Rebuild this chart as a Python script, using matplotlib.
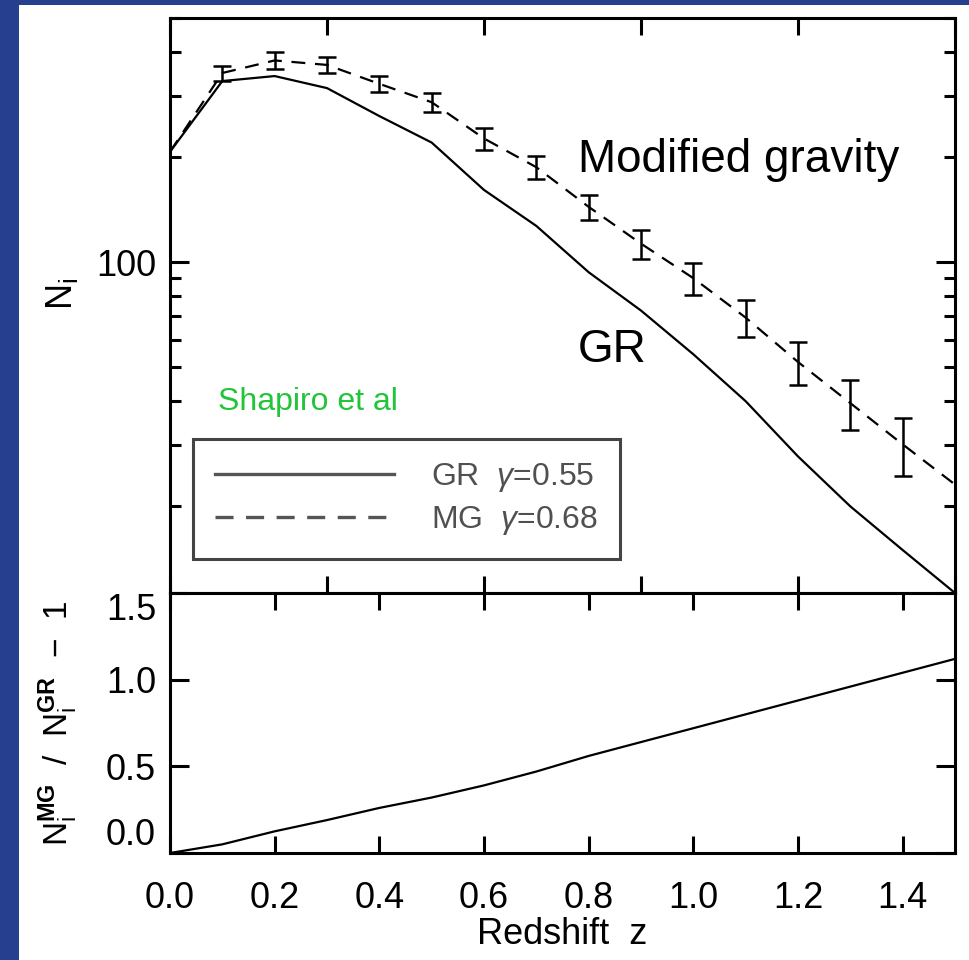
import matplotlib.pyplot as plt
from matplotlib.ticker import MultipleLocator, FixedLocator, FixedFormatter, NullFormatter, LogLocator
from matplotlib.patches import Rectangle

plt.rcParams['font.family'] = ['Liberation Sans', 'DejaVu Sans']
plt.rcParams['mathtext.fontset'] = 'custom'
plt.rcParams['mathtext.rm'] = 'Liberation Sans'
plt.rcParams['mathtext.it'] = 'Liberation Sans:italic'
plt.rcParams['mathtext.bf'] = 'Liberation Sans:bold'
plt.rcParams['lines.scale_dashes'] = False

# values
z = [0.0, 0.1, 0.2, 0.3, 0.4, 0.5, 0.6, 0.7, 0.8, 0.9, 1.0, 1.1, 1.2, 1.3, 1.4, 1.5]
n_gr = [207, 330, 341, 315, 262, 220, 161, 127, 93.6, 72.7, 54.5, 40, 27.8, 20, 15, 11.3]
n_mg = [207, 348, 378, 367, 324, 287, 226, 187, 144, 113, 90, 69.4, 51.8, 39.5, 30.1, 23.1]
mg_err = [0, 17.5, 21.5, 19.5, 18, 18, 16, 14, 12, 10.7, 9.5, 8.4, 7.3, 6.4, 5.6, 0]
ratio = [0.0, 0.05, 0.125, 0.19, 0.26, 0.32, 0.39, 0.47, 0.56, 0.64, 0.72, 0.80, 0.88, 0.96, 1.04, 1.12]

legend_labels = [r'GR  $\gamma$=0.55', r'MG  $\gamma$=0.68']
ratio_ticks = [0.0, 0.5, 1.0, 1.5]
ratio_ticklabels = ['0.0', '0.5', '1.0', '1.5']

W, H = 969, 960
fig = plt.figure(figsize=(W / 100, H / 100), dpi=100, facecolor='#26408F')
fig.add_artist(Rectangle((19 / W, 0), 1 - 19 / W, 1 - 5 / H, transform=fig.transFigure,
                         facecolor='white', edgecolor='none', zorder=-10))

left, right = 170 / W, 955 / W
y_top, y_mid, y_bot = 1 - 18 / H, 1 - 593 / H, 1 - 853 / H
ax1 = fig.add_axes([left, y_mid, right - left, y_top - y_mid])
ax2 = fig.add_axes([left, y_bot, right - left, y_mid - y_bot])

spine_w = 2.2
for ax in (ax1, ax2):
    for s in ax.spines.values():
        s.set_linewidth(spine_w)
    ax.set_xlim(0, 1.5)

# --- top panel ---
ax1.set_yscale('log')
ax1.set_ylim(11.3, 500)
ax1.plot(z, n_gr, color='black', lw=1.6)
ax1.plot(z, n_mg, color='black', lw=1.6, dashes=(10, 7))
ax1.errorbar(z[1:15], n_mg[1:15], yerr=mg_err[1:15], fmt='none', ecolor='black',
             elinewidth=1.8, capsize=6.5, capthick=1.8)

ax1.xaxis.set_major_locator(MultipleLocator(0.3))
ax1.xaxis.set_major_formatter(NullFormatter())
ax1.yaxis.set_major_locator(FixedLocator([100]))
ax1.yaxis.set_major_formatter(FixedFormatter(['100']))
ax1.yaxis.set_minor_locator(LogLocator(base=10, subs=range(2, 10)))
ax1.yaxis.set_minor_formatter(NullFormatter())
ax1.tick_params(which='both', direction='in', top=True, right=True, width=spine_w,
                labelsize=26, pad=10)
ax1.tick_params(which='major', length=14)
ax1.tick_params(which='minor', length=8)
ax1.tick_params(axis='x', length=12)
ax1.set_ylabel(r'$\mathrm{N_i}$', fontsize=26)
ax1.yaxis.set_label_coords(-0.115, 0.52)

ax1.text(0.52, 0.753, 'Modified gravity', transform=ax1.transAxes, fontsize=33,
         va='center', ha='left')
ax1.text(0.52, 0.423, 'GR', transform=ax1.transAxes, fontsize=33, va='center', ha='left')
ax1.text(0.061, 0.332, 'Shapiro et al', transform=ax1.transAxes, fontsize=23,
         va='center', ha='left', color='#22C43A')

h_gr, = ax1.plot([], [], color='#555555', lw=2.4)
h_mg, = ax1.plot([], [], color='#555555', lw=2.4, dashes=(13, 9))
leg = ax1.legend([h_gr, h_mg], legend_labels, loc='upper left',
                 bbox_to_anchor=(0.029, 0.268), borderaxespad=0, fontsize=23,
                 handlelength=5.6, handletextpad=1.15, borderpad=0.7, labelspacing=0.3,
                 fancybox=False, framealpha=1, edgecolor='#444444')
leg.get_frame().set_linewidth(2.2)
for t in leg.get_texts():
    t.set_color('#505050')

# --- bottom panel ---
ax2.plot(z, ratio, color='black', lw=1.6)
ax2.set_ylim(0, 1.5)
ax2.xaxis.set_major_locator(MultipleLocator(0.2))
ax2.xaxis.set_major_formatter(lambda v, p: f'{v:.1f}')
ax2.yaxis.set_major_locator(FixedLocator(ratio_ticks))
ax2.yaxis.set_major_formatter(FixedFormatter(ratio_ticklabels))
ax2.tick_params(which='both', direction='in', top=True, right=True, width=spine_w,
                labelsize=26)
ax2.tick_params(axis='x', length=12, pad=20)
ax2.tick_params(axis='y', length=14, pad=10)
labels = ax2.get_yticklabels()
labels[0].set_va('bottom')
labels[-1].set_va('top')
ax2.set_xlabel('Redshift  z', fontsize=26, labelpad=1)
ax2.set_ylabel(r'$\mathrm{N_i^{\mathbf{MG}}}$  /  $\mathrm{N_i^{\mathbf{GR}}}$  $-$  1',
               fontsize=24)
ax2.yaxis.set_label_coords(-0.115, 0.5)

fig.savefig('out.png', dpi=100, facecolor=fig.get_facecolor())
